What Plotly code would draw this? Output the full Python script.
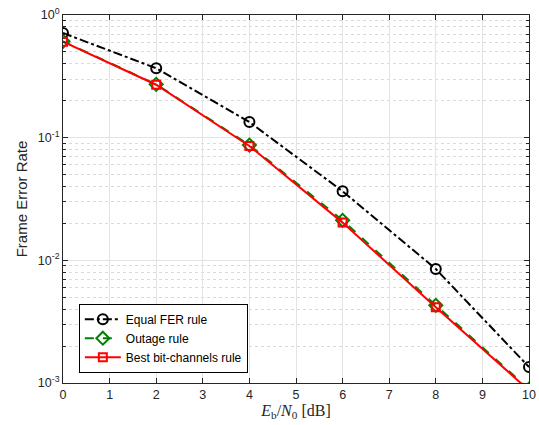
import plotly.graph_objects as go

snr_db = [0, 2, 4, 6, 8, 10]
equal_fer = [0.713, 0.368, 0.134, 0.0366, 0.0085, 0.00135]
outage = [0.61, 0.272, 0.087, 0.0212, 0.0043, 0.00089]
best_bit = [0.606, 0.27, 0.0856, 0.0203, 0.00415, 0.00087]

y_ticks = [1e-3, 1e-2, 1e-1, 1]
y_ticktext = ["10<sup>-3</sup>", "10<sup>-2</sup>", "10<sup>-1</sup>", "10<sup>0</sup>"]
minor_y = [m * 10 ** e for e in (-3, -2, -1) for m in range(2, 10)]

fig = go.Figure()
fig.add_trace(go.Scatter(
    x=snr_db, y=equal_fer, name="Equal FER rule", mode="lines+markers",
    line=dict(color="black", width=2, dash="dashdot"),
    marker=dict(symbol="circle-open", size=10, color="black", line=dict(width=2))))
fig.add_trace(go.Scatter(
    x=snr_db, y=outage, name="Outage rule", mode="lines+markers",
    line=dict(color="#008000", width=2, dash="dash"),
    marker=dict(symbol="diamond-open", size=10, color="#008000", line=dict(width=2))))
fig.add_trace(go.Scatter(
    x=snr_db, y=best_bit, name="Best bit-channels rule", mode="lines+markers",
    line=dict(color="#ff0000", width=2),
    marker=dict(symbol="square-open", size=8, color="#ff0000", line=dict(width=2))))

axis_font = dict(family="Liberation Sans, Arial", size=12, color="#262626")
fig.update_layout(
    width=539, height=425,
    margin=dict(l=63, r=10, t=15, b=42, autoexpand=False),
    plot_bgcolor="white", paper_bgcolor="white",
    font=axis_font,
    showlegend=True,
    legend=dict(x=0.034, y=0.028, xanchor="left", yanchor="bottom",
                bgcolor="white", bordercolor="black", borderwidth=1,
                font=dict(family="Liberation Sans, Arial", size=12, color="black"),
                tracegroupgap=0, itemwidth=36),
    xaxis=dict(
        range=[0, 10], dtick=1, tick0=0, automargin=False,
        showgrid=True, gridcolor="#e3e3e3", gridwidth=1,
        ticks="inside", ticklen=5, tickcolor="#262626",
        showline=True, linecolor="#262626", linewidth=1, mirror="ticks",
        zeroline=False,
        tickfont=dict(size=12.5),
        title=dict(text="<i>E</i><sub>b</sub>/<i>N</i><sub>0</sub> [dB]",
                   font=dict(family="Liberation Serif, Times New Roman", size=16, color="#262626"),
                   standoff=1),
    ),
    yaxis=dict(
        type="log", range=[-3, 0], automargin=False,
        tickmode="array", tickvals=y_ticks, ticktext=y_ticktext,
        showgrid=True, gridcolor="#e3e3e3", gridwidth=1,
        ticks="inside", ticklen=5, tickcolor="#262626",
        showline=True, linecolor="#262626", linewidth=1, mirror="ticks",
        zeroline=False,
        tickfont=dict(size=12.5),
        minor=dict(tickmode="array", tickvals=minor_y, ticks="inside", ticklen=3,
                   tickcolor="#262626", showgrid=True, gridcolor="#dadada",
                   griddash="dot", gridwidth=1),
        title=dict(text="Frame Error Rate", font=dict(size=15, color="#262626"), standoff=6),
    ),
)

fig.write_html("out.html", config={"displayModeBar": False},
               post_script="document.body.style.margin='0';document.body.style.overflow='hidden';")
